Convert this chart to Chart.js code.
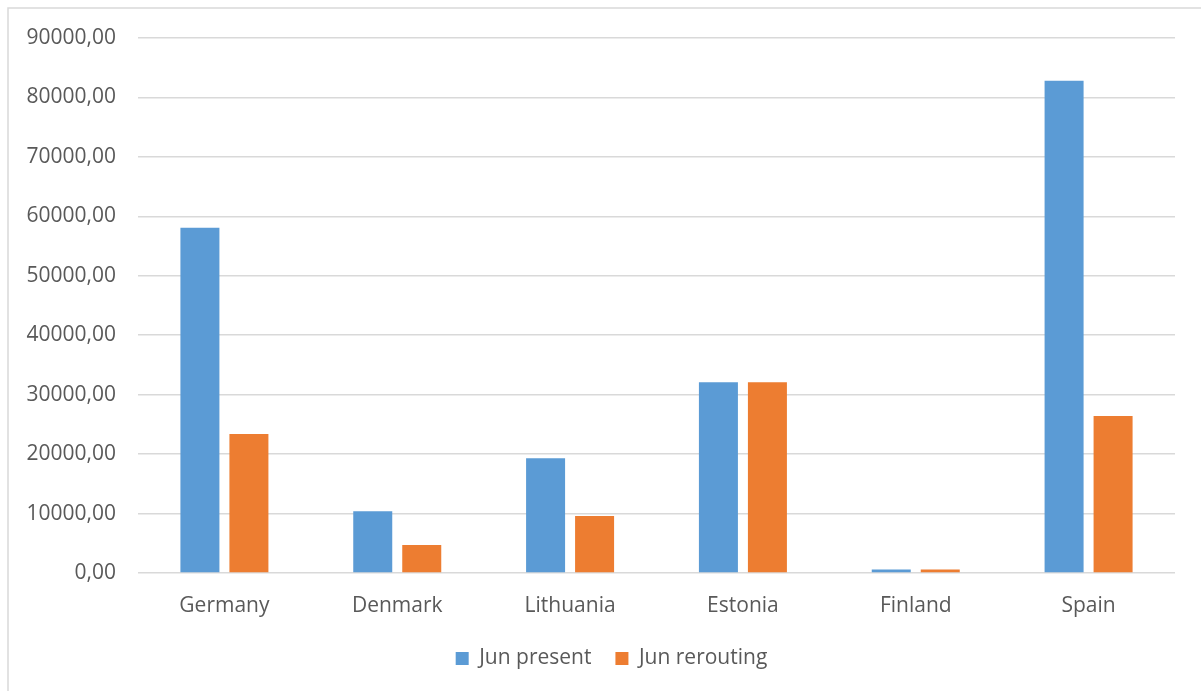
<!DOCTYPE html>
<html>
<head>
<meta charset="utf-8">
<script src="https://cdn.jsdelivr.net/npm/chart.js@4.4.1/dist/chart.umd.min.js"></script>
<style>
    html, body { margin: 0; padding: 0; background: #ffffff; }
    #wrap { position: relative; width: 1201px; height: 691px; }
</style>
</head>
<body>
<div id="wrap">
    <canvas id="chart" width="1201" height="691"></canvas>
</div>
<script>
// Chart data
const countries = ['Germany', 'Denmark', 'Lithuania', 'Estonia', 'Finland', 'Spain'];
const junPresent = [58100, 10400, 19300, 32100, 600, 82800];
const junRerouting = [23400, 4700, 9600, 32100, 600, 26400];
const seriesNames = ['Jun present', 'Jun rerouting'];

const BLUE = '#5B9BD5';
const ORANGE = '#ED7D31';
const GRID = '#D9D9D9';
const TEXT = '#595959';
const FONT = "'Open Sans', 'Noto Sans', sans-serif";

// Light frame along the top and left edges
const framePlugin = {
    id: 'frame',
    beforeDraw(chart) {
        const ctx = chart.ctx;
        ctx.save();
        ctx.strokeStyle = GRID;
        ctx.lineWidth = 1.5;
        ctx.beginPath();
        ctx.moveTo(8, chart.height + 5);
        ctx.lineTo(8, 8);
        ctx.lineTo(chart.width + 5, 8);
        ctx.stroke();
        ctx.restore();
    }
};

// Center the legend under the whole canvas rather than the padded box
const legendShift = {
    id: 'legendShift',
    afterLayout(chart) {
        const lg = chart.legend;
        if (lg) {
            lg.left += 24;
            lg.right += 24;
        }
    }
};

new Chart(document.getElementById('chart'), {
    type: 'bar',
    data: {
        labels: countries,
        datasets: [
            {
                label: seriesNames[0],
                data: junPresent,
                backgroundColor: BLUE,
                categoryPercentage: 0.567,
                barPercentage: 0.796
            },
            {
                label: seriesNames[1],
                data: junRerouting,
                backgroundColor: ORANGE,
                categoryPercentage: 0.567,
                barPercentage: 0.796
            }
        ]
    },
    options: {
        responsive: false,
        animation: false,
        layout: {
            padding: { left: 0, right: 26, top: 38, bottom: 12 }
        },
        plugins: {
            legend: {
                position: 'bottom',
                labels: {
                    boxWidth: 13,
                    boxHeight: 13,
                    padding: 24,
                    color: TEXT,
                    font: { family: FONT, size: 21 }
                }
            },
            tooltip: { enabled: false }
        },
        scales: {
            x: {
                grid: { display: false, drawTicks: false },
                border: { display: false },
                ticks: {
                    color: TEXT,
                    padding: 20,
                    font: { family: FONT, size: 21 }
                },
                afterFit(scale) { scale.height = 51; }
            },
            y: {
                min: 0,
                max: 90000,
                grid: { color: GRID, lineWidth: 1.5, drawTicks: false },
                border: { display: false },
                ticks: {
                    stepSize: 10000,
                    color: TEXT,
                    padding: 22,
                    font: { family: FONT, size: 21 },
                    callback: v => v.toFixed(2).replace('.', ',')
                },
                afterFit(scale) { scale.width = 138; }
            }
        }
    },
    plugins: [framePlugin, legendShift]
});
</script>
</body>
</html>
